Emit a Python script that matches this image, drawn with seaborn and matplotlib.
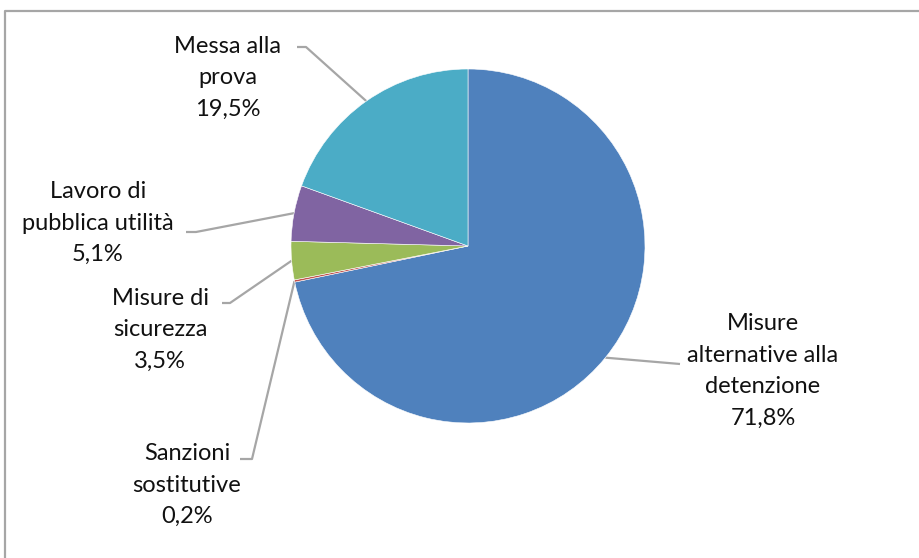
import numpy as np
import matplotlib.pyplot as plt
import seaborn as sns

sns.set_theme(style="white")
plt.rcParams['font.family'] = ['Lato', 'DejaVu Sans']

# data (clockwise from 12 o'clock)
labels = ["Misure\nalternative alla\ndetenzione", "Sanzioni\nsostitutive", "Misure di\nsicurezza",
          "Lavoro di\npubblica utilità", "Messa alla\nprova"]
values = [71.8, 0.2, 3.5, 5.1, 19.5]
pct_text = ["71,8%", "0,2%", "3,5%", "5,1%", "19,5%"]
colors = ["#4F81BD", "#C0504D", "#9BBB59", "#8064A2", "#4BACC6"]

# label layout in pixels (y down): text centre, line anchor next to text, elbow
text_pos = [(763, 371), (187, 485), (160, 330), (98, 223), (228, 78)]
line_start = [(680, 364), (240, 459), (222, 303), (186, 232), (297, 47)]
elbow = [(680, 364), (252, 459), (230, 303), (196, 232), (306, 47)]

cx, cy, r = 468, 246, 177

fig = plt.figure(figsize=(9.19, 5.58), dpi=100)
ax = fig.add_axes([0, 0, 1, 1])

# y axis flipped -> start at -90 and go counterclockwise in data to look clockwise
wedges, _ = ax.pie(values, colors=colors, startangle=-90, counterclock=True,
                   center=(cx, cy), radius=r, frame=True,
                   wedgeprops=dict(linewidth=0.4, edgecolor="white"))

ax.set_xlim(0, 919)
ax.set_ylim(558, 0)
ax.set_aspect("equal")
ax.axis("off")

for w, lab, pct, tp, ls, el in zip(wedges, labels, pct_text, text_pos, line_start, elbow):
    mid = np.deg2rad((w.theta1 + w.theta2) / 2)
    px, py = cx + r * np.cos(mid), cy + r * np.sin(mid)
    ax.plot([ls[0], el[0], px], [ls[1], el[1], py], color="#A6A6A6", lw=1.6,
            solid_capstyle="butt", zorder=0.5)
    ax.text(tp[0], tp[1], lab + "\n" + pct, ha="center", va="center",
            fontsize=17, color="#111111", linespacing=1.62)

# chart border (top and left visible)
ax.plot([5, 5, 919], [558, 11, 11], color="#A6A6A6", lw=1.6, clip_on=False)

fig.savefig("out.png", dpi=100)
